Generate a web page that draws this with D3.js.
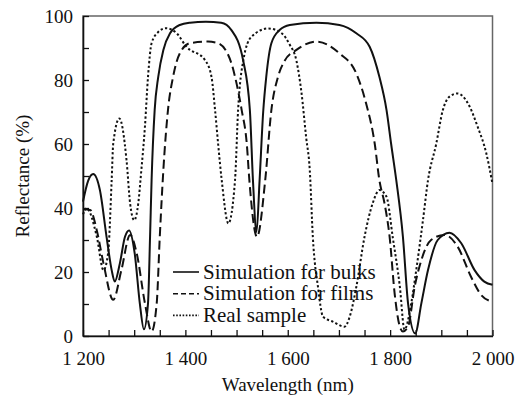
<!DOCTYPE html>
<html>
<head>
<meta charset="utf-8">
<script src="https://cdn.jsdelivr.net/npm/d3@7/dist/d3.min.js"></script>
<style>
  body { margin: 0; background: #fff; }
  svg text { font-family: 'Liberation Serif', Tinos, 'Times New Roman', Times, 'DejaVu Serif', serif; fill: #111; }
</style>
</head>
<body>
<div id="chart"></div>
<script>
// wavelength (nm), reflectance (%)
const bulks = [
  [1200, 42], [1210, 48.5], [1220, 50.6], [1233, 45.6], [1246, 31], [1256, 20.6], [1262, 17],
  [1272, 22.7], [1282, 31], [1290, 33], [1301, 25.8], [1311, 10.2], [1319, 2.1], [1327, 10.2],
  [1331, 31], [1334, 48.7], [1340, 70.6], [1347, 81], [1357, 89.4], [1370, 94.6], [1389, 97.2],
  [1409, 97.9], [1440, 98.2], [1470, 97.9], [1490, 95.6], [1513, 86], [1526, 70.6], [1532, 48.7],
  [1539, 32.5], [1545, 48.7], [1552, 70], [1558, 81], [1568, 91.5], [1584, 95.6], [1604, 97.2],
  [1656, 97.9], [1701, 97.2], [1734, 94.6], [1760, 90.4], [1779, 81], [1793, 70.6], [1802, 60],
  [1812, 48.7], [1825, 31], [1835, 10.2], [1849, 0.8], [1861, 10.2], [1874, 20.6], [1893, 30],
  [1916, 32.3], [1939, 29], [1965, 20.6], [1984, 17], [2000, 16]
];
const films = [
  [1200, 39.6], [1214, 39.4], [1227, 33], [1240, 22.7], [1259, 11.3], [1275, 20.6], [1292, 31.6],
  [1305, 25.8], [1321, 10.2], [1334, 1.4], [1344, 10.2], [1350, 31], [1357, 51.9], [1366, 70.6],
  [1376, 81], [1389, 88.3], [1409, 91.5], [1444, 92], [1464, 91.5], [1490, 85.2], [1497, 81],
  [1510, 70.6], [1520, 60], [1525, 48.7], [1540, 31], [1556, 48.7], [1568, 70.6], [1581, 81],
  [1594, 86], [1617, 89.4], [1656, 92], [1701, 88.3], [1734, 82], [1753, 72.7], [1770, 60],
  [1779, 48.7], [1789, 41.5], [1799, 31], [1809, 13], [1819, 2.9], [1825, 1.4], [1835, 2.9],
  [1848, 15.4], [1861, 23.7], [1880, 30], [1906, 31.6], [1932, 27.9], [1958, 18.5], [1978, 12.8],
  [2000, 10.7]
];
const realSample = [
  [1200, 38], [1207, 39.9], [1227, 31], [1240, 20.6], [1249, 25.8], [1256, 48.7], [1259, 60],
  [1271, 68], [1285, 55], [1292, 41.5], [1300, 36.2], [1308, 41.5], [1314, 51.9], [1321, 65.4],
  [1327, 81], [1334, 91.5], [1347, 95], [1362, 96.2], [1383, 94.6], [1402, 90.4], [1438, 86.3],
  [1451, 81], [1458, 70.6], [1464, 60], [1471, 48.7], [1484, 35.2], [1497, 48.7], [1503, 70.6],
  [1513, 86], [1529, 93.5], [1562, 96.1], [1588, 94.6], [1604, 91], [1617, 86], [1627, 75.8],
  [1636, 62], [1643, 51.9], [1649, 31], [1659, 15.4], [1669, 6], [1688, 4.5], [1711, 2.9],
  [1721, 6], [1734, 15.4], [1750, 31], [1766, 41.5], [1779, 45.6], [1793, 43.5], [1805, 31],
  [1819, 15.4], [1828, 2], [1841, 10], [1851, 20.6], [1864, 36], [1874, 48.7], [1890, 60],
  [1903, 70.6], [1916, 74.8], [1932, 75.8], [1952, 72.7], [1971, 65.4], [1988, 57], [2000, 47.5]
];

const xTicks = d3.range(1200, 2001, 50);
const xLabels = { 1200: '1 200', 1400: '1 400', 1600: '1 600', 1800: '1 800', 2000: '2 000' };
const yTicks = d3.range(0, 101, 10);
const yLabels = { 0: '0', 20: '20', 40: '40', 60: '60', 80: '80', 100: '100' };
const legendItems = [
  { name: 'Simulation for bulks', data: bulks, dash: null, legendDash: null },
  { name: 'Simulation for films', data: films, dash: '9,4.5', legendDash: '5,3' },
  { name: 'Real sample', data: realSample, dash: '2.3,2.3', legendDash: '1.6,1.6' }
];

const serif = "'Liberation Serif', Tinos, 'Times New Roman', Times, 'DejaVu Serif', serif";

const W = 521, H = 398;
const margin = { top: 16, right: 28.5, bottom: 62, left: 83 };
const width = W - margin.left - margin.right;
const height = H - margin.top - margin.bottom;

const svg = d3.select('#chart').append('svg')
  .attr('width', W)
  .attr('height', H)
  .attr('font-family', serif);
const g = svg.append('g')
  .attr('transform', 'translate(' + margin.left + ',' + margin.top + ')');

const x = d3.scaleLinear().domain([1200, 2000]).range([0, width]);
const y = d3.scaleLinear().domain([0, 100]).range([height, 0]);

// frame
g.append('rect')
  .attr('width', width).attr('height', height)
  .attr('fill', 'none').attr('stroke', '#666').attr('stroke-width', 1.5);

// curves
const line = d3.line()
  .x(d => x(d[0]))
  .y(d => y(d[1]))
  .curve(d3.curveMonotoneX);

legendItems.forEach(s => {
  g.append('path')
    .datum(s.data)
    .attr('d', line)
    .attr('fill', 'none')
    .attr('stroke', '#111')
    .attr('stroke-width', 2)
    .attr('stroke-dasharray', s.dash);
});

// axes
const xAxis = g.append('g')
  .attr('transform', 'translate(0,' + height + ')')
  .call(d3.axisBottom(x).tickValues(xTicks).tickSizeInner(-6).tickSizeOuter(0).tickPadding(16)
    .tickFormat(d => xLabels[d] || ''));
const yAxis = g.append('g')
  .call(d3.axisLeft(y).tickValues(yTicks).tickSizeInner(-6).tickSizeOuter(0).tickPadding(10)
    .tickFormat(d => yLabels[d] || ''));

[xAxis, yAxis].forEach(a => {
  a.attr('font-family', serif).attr('font-size', 19);
  a.select('.domain').attr('stroke', '#111').attr('stroke-width', 1.6);
  a.selectAll('.tick line').attr('stroke', '#111').attr('stroke-width', 1.3);
  a.selectAll('.tick text').attr('fill', '#111');
});

// axis titles
svg.append('text')
  .attr('x', margin.left + width / 2)
  .attr('y', 391)
  .attr('text-anchor', 'middle')
  .attr('font-size', 19)
  .text('Wavelength (nm)');

svg.append('text')
  .attr('transform', 'translate(29,' + (margin.top + height / 2) + ') rotate(-90)')
  .attr('text-anchor', 'middle')
  .attr('font-size', 19)
  .text('Reflectance (%)');

// legend
const legend = svg.append('g').attr('transform', 'translate(173,272)');
legendItems.forEach((s, i) => {
  const row = legend.append('g').attr('transform', 'translate(0,' + (i * 21.7) + ')');
  row.append('line')
    .attr('x1', 0).attr('x2', 26)
    .attr('stroke', '#111').attr('stroke-width', 1.6)
    .attr('stroke-dasharray', s.legendDash);
  row.append('text')
    .attr('x', 30).attr('y', 6.5)
    .attr('font-size', 21)
    .text(s.name);
});
</script>
</body>
</html>
